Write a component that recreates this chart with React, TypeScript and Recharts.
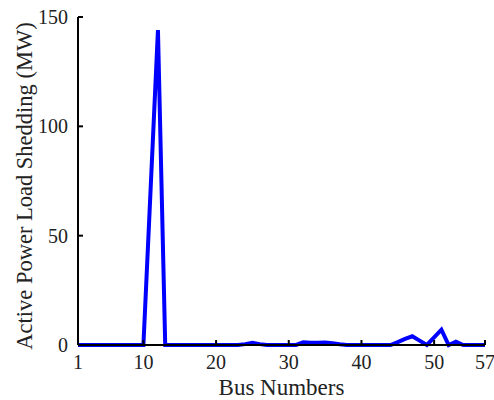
import React from "react";
import { LineChart, Line, XAxis, YAxis, Label } from "recharts";

const busNumbers = Array.from({ length: 57 }, (_, i) => i + 1);
// load shedding per bus, MW
const shedding = [
  0, 0, 0, 0, 0, 0, 0, 0, 0, 0,
  72, 144, 0, 0, 0, 0, 0, 0, 0, 0,
  0, 0, 0, 0.4, 1, 0.4, 0, 0, 0, 0,
  0, 1.2, 1, 1, 1.1, 0.8, 0.3, 0, 0, 0,
  0, 0, 0, 0, 1.3, 2.8, 4, 2, 0, 3.5,
  7, 0, 1.5, 0, 0, 0, 0,
];
const xTicks = [1, 10, 20, 30, 40, 50, 57];
const yTicks = [0, 50, 100, 150];

const data = busNumbers.map((bus, i) => ({ bus, mw: shedding[i] }));

const font = "'Liberation Serif', 'Times New Roman', serif";

const YTitle = (props: any) => {
  const vb = props.viewBox || {};
  const cx = vb.x + 14;
  const cy = vb.y + vb.height / 2 + 5;
  return (
    <text
      x={cx}
      y={cy}
      transform={`rotate(-90 ${cx} ${cy})`}
      textAnchor="middle"
      dominantBaseline="central"
      style={{ fill: "#222", fontSize: 22.5, fontFamily: font }}
    >
      Active Power Load Shedding (MW)
    </text>
  );
};

export default function App() {
  return (
    <div style={{ position: "absolute", left: 0, top: 0, background: "#fff" }}>
      <LineChart
        width={494}
        height={400}
        data={data}
        margin={{ top: 17, right: 9, bottom: 10, left: 10 }}
        style={{ fontFamily: font }}
      >
        <XAxis
          dataKey="bus"
          type="number"
          domain={[1, 57]}
          ticks={xTicks}
          interval={0}
          height={45}
          stroke="#000"
          strokeWidth={2}
          tickSize={-5}
          tickMargin={15}
          tick={{ fill: "#222", fontSize: 20, fontFamily: font }}
        >
          <Label
            value="Bus Numbers"
            position="insideBottom"
            offset={-5}
            style={{ fill: "#222", fontSize: 23, fontFamily: font }}
          />
        </XAxis>
        <YAxis
          type="number"
          domain={[0, 150]}
          ticks={yTicks}
          interval={0}
          width={68}
          stroke="#000"
          strokeWidth={2}
          tickSize={-5}
          tickMargin={15}
          tick={{ fill: "#222", fontSize: 20, fontFamily: font }}
        >
          <Label content={YTitle} />
        </YAxis>
        <Line
          type="linear"
          dataKey="mw"
          stroke="#0000ff"
          strokeWidth={4}
          dot={false}
          activeDot={false}
          isAnimationActive={false}
        />
      </LineChart>
    </div>
  );
}
